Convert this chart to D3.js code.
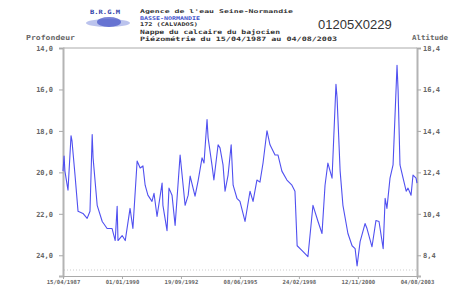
<!DOCTYPE html>
<html><head><meta charset="utf-8">
<script src="https://cdn.jsdelivr.net/npm/d3@7"></script>
<style>body{margin:0;background:#fff}svg{display:block}</style>
</head><body>
<svg id="chart" width="450" height="286"></svg>
<script>
const dates = ["1987-04-15","1987-05-03","1987-05-17","1987-07-08","1987-08-28","1987-09-13","1987-11-03","1987-12-24",
"1988-03-16","1988-05-25","1988-07-12","1988-08-18","1988-09-02","1988-11-10","1989-02-03","1989-04-26","1989-07-19",
"1989-09-09","1989-10-12","1989-10-26","1990-01-04","1990-02-25","1990-05-17","1990-07-04","1990-09-13","1990-11-03",
"1990-12-20","1991-01-26","1991-03-13","1991-05-21","1991-06-24","1991-08-14","1991-11-07","1991-11-21","1992-01-29",
"1992-03-02","1992-04-22","1992-06-13","1992-09-05","1992-11-28","1993-01-19","1993-02-21","1993-05-14","1993-07-04",
"1993-09-09","1993-10-12","1993-12-02","1993-12-20","1994-02-25","1994-03-27","1994-06-06","1994-07-08","1994-08-28",
"1994-10-01","1994-11-21","1995-01-12","1995-02-14","1995-04-19","1995-06-09","1995-09-02","1995-11-25","1996-01-15",
"1996-03-20","1996-05-10","1996-07-01","1996-09-05","1996-10-26","1997-01-19","1997-03-09","1997-05-14","1997-08-07",
"1997-10-30","1997-12-20","1998-01-26","1998-04-19","1998-07-26","1998-10-19","1999-01-12","1999-03-20","1999-05-10",
"1999-06-27","1999-09-05","1999-11-10","1999-11-28","2000-01-19","2000-03-06","2000-05-29","2000-08-07","2000-09-27",
"2000-10-30","2000-12-20","2001-03-13","2001-04-15","2001-07-08","2001-09-13","2001-11-03","2002-01-12","2002-02-14",
"2002-03-16","2002-05-07","2002-06-27","2002-09-02","2002-09-20","2002-10-22","2002-12-13","2003-02-03","2003-03-06",
"2003-04-26","2003-05-29","2003-07-19","2003-08-04"];
const depths = [19.94,19.21,19.94,20.86,18.23,18.48,20.13,21.88,
21.98,22.22,21.88,18.18,19.30,21.59,22.37,22.71,22.71,
23.29,21.64,23.29,23.05,23.29,21.74,22.71,19.45,19.79,
19.69,20.62,21.10,21.40,21.01,22.13,20.52,21.59,22.81,
20.76,21.10,22.56,19.16,21.59,21.10,20.18,21.15,20.42,
19.30,19.55,17.45,18.33,19.69,20.37,18.67,18.82,19.64,
20.91,20.13,18.67,20.62,21.25,21.40,22.37,20.91,21.40,
20.37,20.47,19.55,17.99,18.67,19.16,19.16,19.94,20.37,
20.62,20.91,23.54,23.78,24.07,21.59,22.37,22.95,20.62,
19.55,20.28,15.75,16.38,19.94,21.59,22.95,23.54,23.68,
24.51,23.34,22.47,22.71,23.59,22.32,22.37,23.68,21.25,
21.74,20.28,19.64,14.83,16.04,19.64,20.28,20.91,20.76,
21.10,20.13,20.28,20.52];
const depthTicks = [14,16,18,20,22,24];
const altTicks = [18.4,16.4,14.4,12.4,10.4,8.4];
const xTickLabels = ["15/04/1987","01/01/1990","19/09/1992","08/06/1995","24/02/1998","12/11/2000","04/08/2003"];
const headerLines = ["Agence de l'eau Seine-Normandie","BASSE-NORMANDIE","172 (CALVADOS)","Nappe du calcaire du bajocien","Piézométrie du 15/04/1987 au 04/08/2003"];
const stationCode = "01205X0229";

const svg = d3.select("#chart");
const L = 63, R = 417, T = 48, B = 276;
const parse = d3.timeParse("%Y-%m-%d");
const fmt = d3.timeFormat("%d/%m/%Y");
const pts = dates.map((d,i)=>({t:parse(d), v:depths[i]}));
const x = d3.scaleTime().domain([pts[0].t, pts[pts.length-1].t]).range([L,R]);
const y = d3.scaleLinear().domain([14,25]).range([T,B]);
const yAlt = d3.scaleLinear().domain([32.4-14,32.4-25]).range([T,B]);
const lblFont = "'DejaVu Sans Mono', monospace";
const comma = d=>d3.format(".1f")(d).replace(".",",");

// frame
svg.append("line").attr("x1",L).attr("x2",R).attr("y1",T).attr("y2",T).attr("stroke","#aaa").attr("stroke-width",1);
svg.append("line").attr("x1",L+1).attr("x2",R-1).attr("y1",B-6).attr("y2",B-6).attr("stroke","#ccc").attr("stroke-dasharray","1,2");

const yAxisL = svg.append("g").attr("transform",`translate(${L},0)`)
  .call(d3.axisLeft(y).tickValues(depthTicks).tickSize(4).tickPadding(6).tickFormat(comma));
const yAxisR = svg.append("g").attr("transform",`translate(${R},0)`)
  .call(d3.axisRight(yAlt).tickValues(altTicks).tickSize(4).tickPadding(2).tickFormat(comma));
const xTickDates = xTickLabels.map(s=>d3.timeParse("%d/%m/%Y")(s));
const xAxis = svg.append("g").attr("transform",`translate(0,${B})`)
  .call(d3.axisBottom(x).tickValues(xTickDates).tickSize(3).tickPadding(1).tickFormat(fmt));
[yAxisL,yAxisR,xAxis].forEach(g=>{
  g.select(".domain").attr("stroke","#b4b4b4").attr("stroke-width",2);
  g.selectAll(".tick line").attr("stroke","#aaa");
  g.selectAll("text").attr("font-family",lblFont).attr("font-size",7).attr("font-weight","bold").attr("fill","#666");
});
xAxis.select(".domain").attr("stroke","#aaa").attr("stroke-width",1);
xAxis.selectAll("text").attr("font-size",5.6);

// series
svg.append("path").datum(pts)
  .attr("d", d3.line().x(d=>x(d.t)).y(d=>y(d.v)))
  .attr("fill","none").attr("stroke","#5050f0").attr("stroke-width",1.1).attr("stroke-linejoin","round");

// labels
svg.append("text").attr("x",26).attr("y",40).text("Profondeur")
  .attr("font-family",lblFont).attr("font-size",7).attr("font-weight","bold").attr("fill","#666")
  .attr("textLength",49).attr("lengthAdjust","spacingAndGlyphs");
svg.append("text").attr("x",412).attr("y",40).text("Altitude")
  .attr("font-family",lblFont).attr("font-size",7).attr("font-weight","bold").attr("fill","#666")
  .attr("textLength",36).attr("lengthAdjust","spacingAndGlyphs");

// header
const logo = svg.append("g").attr("transform","translate(85,8)");
logo.append("text").attr("x",5).attr("y",6).text("B.R.G.M").attr("font-family",lblFont).attr("font-size",6).attr("font-weight","bold").attr("fill","#3344aa")
  .attr("textLength",30).attr("lengthAdjust","spacingAndGlyphs");
logo.append("ellipse").attr("cx",23).attr("cy",15).attr("rx",22).attr("ry",4).attr("fill","#aab4e8").attr("opacity",0.8);
logo.append("ellipse").attr("cx",24).attr("cy",14).attr("rx",12).attr("ry",5).attr("fill","#4a58c8").attr("opacity",0.75);
const hdr = svg.append("g");
const hy = [13,19.5,26,34,41], hw = [153,60,58,140,197], hs = [5,5,5,6,6];
headerLines.forEach((s,i)=>{
  hdr.append("text").attr("x",140).attr("y",hy[i]).text(s)
    .attr("font-family",lblFont).attr("font-size",hs[i]).attr("font-weight","bold")
    .attr("fill", i===1 ? "#4455cc" : "#333")
    .attr("textLength",hw[i]).attr("lengthAdjust","spacingAndGlyphs");
});
svg.append("text").attr("x",318).attr("y",29).text(stationCode)
  .attr("font-family","'Liberation Sans', Arial, sans-serif").attr("font-size",13).attr("fill","#333");
</script>
</body></html>
